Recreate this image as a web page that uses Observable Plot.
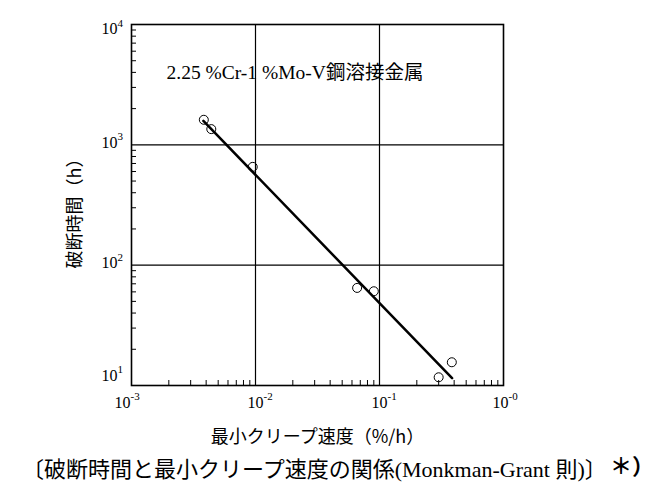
<!DOCTYPE html>
<html><head><meta charset="utf-8">
<script src="https://cdn.jsdelivr.net/npm/d3@7"></script>
<script src="https://cdn.jsdelivr.net/npm/@observablehq/plot@0.6"></script>
<style>
body{margin:0;background:#fff;width:661px;height:500px;overflow:hidden;position:relative;}
#cap{position:absolute;left:22px;top:452px;font-size:22px;line-height:30px;white-space:nowrap;font-family:"Noto Sans CJK JP",sans-serif;color:#000;}
#cap .lat{font-family:"Liberation Serif",serif;}
#star{position:absolute;left:610px;top:449px;font-size:22px;line-height:30px;font-weight:bold;white-space:nowrap;font-family:"Noto Sans CJK JP",sans-serif;}
</style></head><body>
<div id="chart"></div>
<div id="cap">〔破断時間と最小クリープ速度の関係<span class="lat">(Monkman-Grant </span>則<span class="lat">)</span>〕</div>
<div id="star">＊）</div>
<script>
// measured data: minimum creep rate (%/h) vs rupture time (h)
const rate = [0.00383, 0.00440, 0.0095, 0.066, 0.090, 0.30, 0.383];
const ruptureTime = [1615, 1351, 656, 64.7, 60.7, 11.7, 15.6];
// fitted line endpoints
const fitRate = [0.0038, 0.385];
const fitTime = [1580, 11.5];
// tick labels
const xTickExps = [-3, -2, -1, 0];
const xTickExpLabels = ["-3", "-2", "-1", "-0"];
const yTickExps = [1, 2, 3, 4];
const yTickExpLabels = ["1", "2", "3", "4"];
const annotation = "2.25 %Cr-1 %Mo-V鋼溶接金属";
const xLabel = "最小クリープ速度（%/h）";
const yLabel = "破断時間（h）";

const points = rate.map((r, i) => ({rate: r, time: ruptureTime[i]}));
const fit = fitRate.map((r, i) => ({rate: r, time: fitTime[i]}));
const xMinor = [], yMinor = [];
for (let e = -3; e < 0; e++) for (let m = 2; m <= 9; m++) xMinor.push(m * 10 ** e);
for (let e = 1; e < 4; e++) for (let m = 2; m <= 9; m++) yMinor.push(m * 10 ** e);
const xt = xTickExps.map((e, i) => ({v: 10 ** e, lab: xTickExpLabels[i], i}));
const yt = yTickExps.map((e, i) => ({v: 10 ** e, lab: yTickExpLabels[i], i}));
const serif = "Liberation Serif, serif";
const last = xt.length - 1;
const T = {lineAnchor: "middle", fill: "black"};

const chart = Plot.plot({
  width: 661, height: 450,
  marginTop: 24, marginBottom: 65, marginLeft: 131, marginRight: 158,
  x: {type: "log", domain: [1e-3, 1]},
  y: {type: "log", domain: [10, 1e4]},
  style: {background: "white", overflow: "visible", color: "black"},
  marks: [
    Plot.gridX([1e-2, 1e-1], {stroke: "black", strokeOpacity: 1, strokeWidth: 1.2}),
    Plot.gridY([1e2, 1e3], {stroke: "black", strokeOpacity: 1, strokeWidth: 1.2}),
    Plot.axisX({ticks: xMinor, tickSize: -5, tickFormat: () => "", label: null, stroke: "black"}),
    Plot.axisY({ticks: yMinor, tickSize: -5, tickFormat: () => "", label: null, stroke: "black"}),
    Plot.frame({stroke: "black", strokeWidth: 1.6}),
    // x tick labels
    Plot.text(xt.filter(d => d.i > 0 && d.i < last), {...T, x: "v", text: () => "10", frameAnchor: "bottom", dy: 17, textAnchor: "middle", fontSize: 16, fontFamily: serif}),
    Plot.text(xt.filter(d => d.i > 0 && d.i < last), {...T, x: "v", text: "lab", frameAnchor: "bottom", dy: 11, dx: 8, textAnchor: "start", fontSize: 11, fontFamily: serif}),
    Plot.text(xt.filter(d => d.i === 0), {...T, x: "v", text: () => "10", frameAnchor: "bottom", dy: 17, dx: -9, textAnchor: "middle", fontSize: 16, fontFamily: serif}),
    Plot.text(xt.filter(d => d.i === 0), {...T, x: "v", text: "lab", frameAnchor: "bottom", dy: 11, dx: -1, textAnchor: "start", fontSize: 11, fontFamily: serif}),
    Plot.text(xt.filter(d => d.i === last), {...T, x: "v", text: () => "10", frameAnchor: "bottom", dy: 17, dx: -3, textAnchor: "middle", fontSize: 16, fontFamily: serif}),
    Plot.text(xt.filter(d => d.i === last), {...T, x: "v", text: "lab", frameAnchor: "bottom", dy: 11, dx: 5, textAnchor: "start", fontSize: 11, fontFamily: serif}),
    // y tick labels
    Plot.text(yt.filter(d => d.i > 0 && d.i < 3), {...T, y: "v", text: () => "10", frameAnchor: "left", dx: -14, dy: -2, textAnchor: "end", fontSize: 16, fontFamily: serif}),
    Plot.text(yt.filter(d => d.i > 0 && d.i < 3), {...T, y: "v", text: "lab", frameAnchor: "left", dx: -14, dy: -8, textAnchor: "start", fontSize: 11, fontFamily: serif}),
    Plot.text(yt.filter(d => d.i === 0), {...T, y: "v", text: () => "10", frameAnchor: "left", dx: -14, dy: -10, textAnchor: "end", fontSize: 16, fontFamily: serif}),
    Plot.text(yt.filter(d => d.i === 0), {...T, y: "v", text: "lab", frameAnchor: "left", dx: -14, dy: -16, textAnchor: "start", fontSize: 11, fontFamily: serif}),
    Plot.text(yt.filter(d => d.i === 3), {...T, y: "v", text: () => "10", frameAnchor: "left", dx: -14, dy: 4, textAnchor: "end", fontSize: 16, fontFamily: serif}),
    Plot.text(yt.filter(d => d.i === 3), {...T, y: "v", text: "lab", frameAnchor: "left", dx: -14, dy: -1, textAnchor: "start", fontSize: 11, fontFamily: serif}),
    // axis titles
    Plot.text([xLabel], {...T, text: d => d, frameAnchor: "bottom", dy: 52, textAnchor: "middle", fontSize: 18, fontFamily: "Noto Sans CJK JP"}),
    Plot.text([yLabel], {...T, text: d => d, frameAnchor: "left", dx: -56, dy: 4, rotate: -90, textAnchor: "middle", fontSize: 18, fontFamily: "Noto Sans CJK JP"}),
    // annotation
    Plot.text([annotation], {...T, text: d => d, frameAnchor: "top-left", dx: 35, dy: 48, textAnchor: "start", fontSize: 19.5, fontFamily: "Liberation Serif, 'Noto Sans CJK JP'"}),
    // data
    Plot.line(fit, {x: "rate", y: "time", stroke: "black", strokeWidth: 2.5}),
    Plot.dot(points, {x: "rate", y: "time", r: 4.5, stroke: "black", strokeWidth: 1, fill: "none"})
  ]
});
document.getElementById("chart").append(chart);
</script>
</body></html>
